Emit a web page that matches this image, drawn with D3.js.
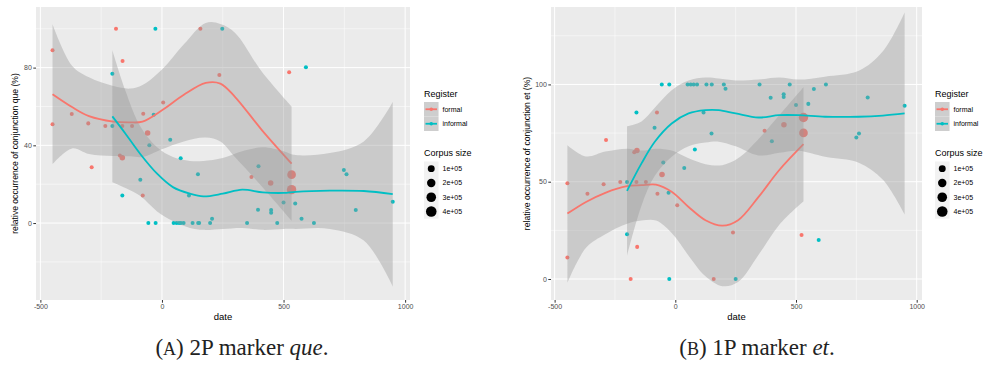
<!DOCTYPE html>
<html>
<head>
<meta charset="utf-8">
<title>Conjunction markers by date</title>
<script src="https://d3js.org/d3.v7.min.js"></script>
<style>
  body { margin: 0; background: #fff; }
  svg { display: block; font-family: "Liberation Sans", Arial, sans-serif; }
  .tick text { font-size: 7px; }
  .axis-title { font-size: 9.5px; fill: #000; }
  .legend-title { font-size: 9px; fill: #000; }
  .legend-label { font-size: 7px; fill: #000; }
  .caption { font-family: "Liberation Serif", "DejaVu Serif", serif; font-size: 23px; fill: #222; }
</style>
</head>
<body>
<svg id="chart" width="984" height="374"></svg>
<script>
// axis breaks
const xTicks = [-500, 0, 500, 1000];
const xMinor = [-250, 250, 750];
const queTicks = [0, 40, 80];
const queMinor = [-20, 20, 60, 100];
const etTicks = [0, 50, 100];
const etMinor = [25, 75, 125];
const sizeBreaks = [1e5, 2e5, 3e5, 4e5];
const sizeLabels = ["1e+05", "2e+05", "3e+05", "4e+05"];
const registers = ["formal", "informal"];
const colors = { formal: "#F8766D", informal: "#00BFC4" };

// panel A: que, formal texts
const queFormalDate  = [-450, -450, -189, -162, 158, 236, 523, -371, -303, -233, -163, -123, -77, 5, -59, -173, -163, -289, -79, 368, 447, 533, 533];
const queFormalShare = [88.9, 50.8, 100, 83.4, 100, 76.2, 77.6, 56.1, 51.3, 50, 50, 50, 56.3, 62.1, 46.4, 34.8, 33.6, 28.7, 14.2, 23.7, 20.6, 24.9, 17.2];
const queFormalSize  = [5e3, 5e3, 5e3, 5e3, 5e3, 5e3, 5e3, 5e3, 5e3, 5e3, 5e3, 5e3, 5e3, 5e3, 4e4, 5e3, 4e4, 5e3, 5e3, 5e3, 4e4, 2.2e5, 2.8e5];

// panel A: que, informal texts
const queInformalDate  = [-27, 248, 592, -204, -204, -34, -52, 34, 77, 148, -89, -163, 111, 397, 748, 759, 500, 548, 395, 449, 449, 574, 797, 949,
                          -56, -26, 48, 60, 70, 78, 89, 126, 149, 153, 198, 206, 350, 474, 625];
const queInformalShare = [100, 100, 80.2, 76.9, 50, 55.8, 40, 42.9, 33.3, 25.1, 22.3, 14.2, 14.2, 29.2, 27.3, 25.1, 10.6, 10.1, 6.9, 6.7, 5.3, 2.2, 6.7, 11,
                          0, 0, 0, 0, 0, 0, 0, 0, 0, 0, 0, 2.2, 0, 0, 0];
const queInformalSize  = queInformalDate.map(() => 5e3);

// panel A: loess fits
const queFormalFitDate = [-450, -370, -300, -200, -130, -80, 0, 90, 180, 240, 300, 410, 533];
const queFormalFit     = [66.3, 59.7, 55, 52.2, 51.8, 52.2, 58, 66, 72.1, 71.8, 65, 48, 30.6];
const queFormalUpper   = [102.3, 81, 75, 70.5, 69.2, 71, 79, 92, 103, 102.5, 98, 78, 60];
const queFormalLower   = [30.3, 38.4, 35.5, 34.5, 34.4, 34, 38, 42, 44, 42, 34, 19, 1.2];

const queInformalFitDate = [-204, -150, -90, -20, 45, 115, 170, 250, 330, 415, 500, 550, 690, 830, 949];
const queInformalFit     = [54.9, 46, 35.7, 25.4, 18.5, 15.1, 13.7, 15.1, 17.2, 15.8, 15.5, 16.1, 16.7, 16.5, 14.9];
const queInformalUpper   = [88.9, 68, 50, 39, 34, 32, 32, 33.5, 37, 39, 37, 35, 36, 42, 62.3];
const queInformalLower   = [21, 18, 14, 6, 1, -2.5, -3.5, -3, -2.5, -3.5, -3, -3, -3, -9, -32.6];

// panel B: et, formal texts
const etFormalDate  = [-447, -447, -364, -297, -287, -228, -185, -158, -170, -159, -161, -122, -76, -74, -55, 8, 159, 239, 370, 450, 531, 531, 523];
const etFormalShare = [49.2, 11.1, 43.8, 48.7, 71.4, 49.9, 0, 16.5, 65.2, 66, 49.9, 49.9, 85.6, 43.8, 53.7, 37.9, 0, 23.9, 76.2, 79.3, 83, 75.1, 22.6];
const etFormalSize  = [5e3, 5e3, 5e3, 5e3, 5e3, 5e3, 5e3, 5e3, 5e3, 4e4, 5e3, 5e3, 5e3, 5e3, 4e4, 5e3, 5e3, 5e3, 5e3, 4e4, 2.8e5, 2.2e5, 5e3];

// panel B: et, informal texts
const etInformalDate  = [-200, -200, -161, -86, -50, -56, -25, -28, -25, 37, 81, 51, 64, 76, 90, 129, 151, 201, 208, 117, 150, 250,
                         349, 395, 449, 449, 400, 474, 500, 551, 574, 624, 594, 750, 761, 797, 950];
const etInformalShare = [49.9, 23, 85.6, 77.7, 59.9, 100, 100, 44.3, 0, 57.1, 66.5, 100, 100, 100, 100, 100, 100, 100, 97.8, 85.6, 74.8, 0,
                         100, 93.1, 95, 93.5, 70.8, 100, 89.4, 90, 97.6, 100, 20, 72.7, 74.8, 93.3, 89];
const etInformalSize  = etInformalDate.map(() => 5e3);

// panel B: loess fits
const etFormalFitDate = [-447, -370, -290, -200, -140, -80, -15, 55, 125, 195, 260, 345, 430, 531];
const etFormalFit     = [33.6, 39.6, 44.3, 47.7, 48.2, 48.5, 44.8, 37, 30.2, 27.4, 30.2, 42.2, 55.9, 69.3];
const etFormalUpper   = [68.8, 63, 65.5, 67, 66, 67, 66, 62, 59, 58.5, 62, 72, 84, 98.5];
const etFormalLower   = [-2, 16, 23, 28.4, 30, 30, 23.6, 12, 1.4, -3.7, -1.6, 12.4, 27.8, 40];

const etInformalFitDate = [-200, -140, -85, -15, 55, 125, 180, 250, 345, 430, 510, 620, 760, 860, 950];
const etInformalFit     = [45.3, 59.4, 70.5, 79.9, 85.1, 86.8, 86.8, 85.1, 83, 84.2, 84.2, 83.4, 83.4, 84, 85.1];
const etInformalUpper   = [78.5, 81, 88, 97, 102, 103.5, 103, 102, 102.5, 103.5, 102.5, 104, 107, 117, 137];
const etInformalLower   = [12, 37.8, 53, 62.8, 68.2, 70.1, 70.6, 68.2, 63.5, 64.9, 65.9, 62.8, 59.8, 51, 33.2];

const svg = d3.select("#chart");
const sizeScale = d3.scaleSqrt().domain([0, 4e5]).range([1.6, 5.3]);

function series(name, date, share, size, fitDate, fit, upper, lower) {
  return { name, date, share, size, fitDate, fit, upper, lower };
}

function drawPanel(p) {
  const g = svg.append("g");
  const x = d3.scaleLinear().domain(p.xDomain).range([p.left, p.right]);
  const y = d3.scaleLinear().domain(p.yDomain).range([p.bottom, p.top]);

  g.append("rect")
    .attr("x", p.left).attr("y", p.top)
    .attr("width", p.right - p.left).attr("height", p.bottom - p.top)
    .attr("fill", "#EBEBEB");

  const clipId = "clip-" + p.id;
  g.append("clipPath").attr("id", clipId)
    .append("rect")
    .attr("x", p.left).attr("y", p.top)
    .attr("width", p.right - p.left).attr("height", p.bottom - p.top);

  // grid
  const grid = g.append("g").attr("stroke", "#fff");
  grid.selectAll(".xminor").data(xMinor).enter().append("line")
    .attr("x1", d => x(d)).attr("x2", d => x(d))
    .attr("y1", p.top).attr("y2", p.bottom).attr("stroke-width", 0.5);
  grid.selectAll(".yminor").data(p.yMinor).enter().append("line")
    .attr("x1", p.left).attr("x2", p.right)
    .attr("y1", d => y(d)).attr("y2", d => y(d)).attr("stroke-width", 0.5);
  grid.selectAll(".xmajor").data(xTicks).enter().append("line")
    .attr("x1", d => x(d)).attr("x2", d => x(d))
    .attr("y1", p.top).attr("y2", p.bottom).attr("stroke-width", 1);
  grid.selectAll(".ymajor").data(p.yTicks).enter().append("line")
    .attr("x1", p.left).attr("x2", p.right)
    .attr("y1", d => y(d)).attr("y2", d => y(d)).attr("stroke-width", 1);

  const plot = g.append("g").attr("clip-path", `url(#${clipId})`);

  // points sit under the ribbons, as in the original
  p.series.forEach(s => {
    plot.append("g").selectAll("circle")
      .data(d3.range(s.date.length))
      .enter().append("circle")
      .attr("cx", i => x(s.date[i]))
      .attr("cy", i => y(s.share[i]))
      .attr("r", i => sizeScale(s.size[i]))
      .attr("fill", colors[s.name]);
  });

  p.series.forEach(s => {
    const idx = d3.range(s.fitDate.length);
    plot.append("path")
      .datum(idx)
      .attr("fill", "#999")
      .attr("fill-opacity", 0.4)
      .attr("d", d3.area()
        .x(i => x(s.fitDate[i]))
        .y0(i => y(s.lower[i]))
        .y1(i => y(s.upper[i]))
        .curve(d3.curveCatmullRom.alpha(0.5)));
    plot.append("path")
      .datum(idx)
      .attr("fill", "none")
      .attr("stroke", colors[s.name])
      .attr("stroke-width", 1.8)
      .attr("d", d3.line()
        .x(i => x(s.fitDate[i]))
        .y(i => y(s.fit[i]))
        .curve(d3.curveCatmullRom.alpha(0.5)));
  });

  // axes
  const xAxis = g.append("g")
    .attr("transform", `translate(0,${p.bottom})`)
    .call(d3.axisBottom(x).tickValues(xTicks).tickSize(2.7).tickPadding(1.5).tickFormat(d => String(d)));
  const yAxis = g.append("g")
    .attr("transform", `translate(${p.left},0)`)
    .call(d3.axisLeft(y).tickValues(p.yTicks).tickSize(2.7).tickPadding(1.5).tickFormat(d => String(d)));
  [xAxis, yAxis].forEach(a => {
    a.select(".domain").remove();
    a.attr("font-family", null).attr("font-size", null);
    a.selectAll(".tick line").attr("stroke", "#333");
    a.selectAll(".tick text").attr("fill", "#4d4d4d");
  });

  g.append("text")
    .attr("class", "axis-title")
    .attr("x", (p.left + p.right) / 2)
    .attr("y", 320)
    .attr("text-anchor", "middle")
    .text("date");

  g.append("text")
    .attr("class", "axis-title")
    .attr("transform", `translate(${p.yTitleX},${(p.top + p.bottom) / 2}) rotate(-90)`)
    .attr("text-anchor", "middle")
    .attr("dominant-baseline", "central")
    .style("font-size", "8.6px")
    .text(p.yTitle);

  drawLegend(p.legendX);
}

function drawLegend(x0) {
  const g = svg.append("g");
  const key = 14.5;

  g.append("text").attr("class", "legend-title")
    .attr("x", x0).attr("y", 97).text("Register");
  registers.forEach((r, i) => {
    const cy = 102 + key * i + key / 2;
    g.append("rect").attr("x", x0).attr("y", 102 + key * i)
      .attr("width", key).attr("height", key).attr("fill", "#F2F2F2");
    g.append("rect").attr("x", x0).attr("y", 102 + key * i)
      .attr("width", key).attr("height", key).attr("fill", "#999").attr("fill-opacity", 0.4);
    g.append("line").attr("x1", x0 + 1.5).attr("x2", x0 + key - 1.5)
      .attr("y1", cy).attr("y2", cy)
      .attr("stroke", colors[r]).attr("stroke-width", 1.8);
    g.append("circle").attr("cx", x0 + key / 2).attr("cy", cy).attr("r", 1.8)
      .attr("fill", colors[r]);
    g.append("text").attr("class", "legend-label")
      .attr("x", x0 + key + 4).attr("y", cy)
      .attr("dominant-baseline", "central").text(r);
  });

  g.append("text").attr("class", "legend-title")
    .attr("x", x0).attr("y", 156).text("Corpus size");
  const rowH = 14.3;
  g.append("rect").attr("x", x0).attr("y", 161.5)
    .attr("width", key).attr("height", rowH * sizeBreaks.length).attr("fill", "#F2F2F2");
  sizeBreaks.forEach((b, i) => {
    const cy = 161.5 + rowH * i + rowH / 2;
    g.append("circle").attr("cx", x0 + key / 2).attr("cy", cy)
      .attr("r", sizeScale(b)).attr("fill", "#000");
    g.append("text").attr("class", "legend-label")
      .attr("x", x0 + key + 4).attr("y", cy)
      .attr("dominant-baseline", "central").text(sizeLabels[i]);
  });
}

drawPanel({
  id: "que",
  left: 36, right: 410, top: 7, bottom: 300,
  xDomain: [-518, 1020], yDomain: [-39.6, 111.2],
  yTicks: queTicks, yMinor: queMinor,
  yTitle: "relative occurrence of conjunction que (%)", yTitleX: 15,
  legendX: 424,
  series: [
    series("formal", queFormalDate, queFormalShare, queFormalSize, queFormalFitDate, queFormalFit, queFormalUpper, queFormalLower),
    series("informal", queInformalDate, queInformalShare, queInformalSize, queInformalFitDate, queInformalFit, queInformalUpper, queInformalLower)
  ]
});

drawPanel({
  id: "et",
  left: 551, right: 922, top: 7, bottom: 300,
  xDomain: [-515, 1022], yDomain: [-10.8, 139.8],
  yTicks: etTicks, yMinor: etMinor,
  yTitle: "relative occurrence of conjunction et (%)", yTitleX: 527,
  legendX: 935,
  series: [
    series("formal", etFormalDate, etFormalShare, etFormalSize, etFormalFitDate, etFormalFit, etFormalUpper, etFormalLower),
    series("informal", etInformalDate, etInformalShare, etInformalSize, etInformalFitDate, etInformalFit, etInformalUpper, etInformalLower)
  ]
});

// sub-captions
function caption(cx, letter, mid, word) {
  const t = svg.append("text").attr("class", "caption")
    .attr("x", cx).attr("y", 355).attr("text-anchor", "middle");
  t.append("tspan").text("(");
  t.append("tspan").attr("font-size", "18px").text(letter);
  t.append("tspan").text(") " + mid + " ");
  t.append("tspan").attr("font-style", "italic").text(word);
  t.append("tspan").text(".");
}
caption(242, "A", "2P marker", "que");
caption(757, "B", "1P marker", "et");
</script>
</body>
</html>
